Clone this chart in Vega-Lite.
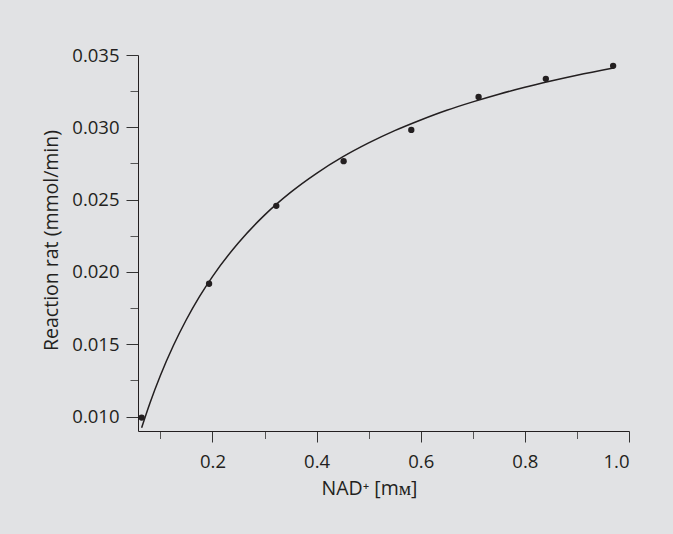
{
  "$schema": "https://vega.github.io/schema/vega-lite/v6.json",
  "width": 491,
  "height": 376,
  "autosize": "none",
  "padding": {"left": 138, "top": 55, "right": 44, "bottom": 103},
  "background": "#e1e2e4",
  "config": {
    "view": {"stroke": null},
    "font": "Open Sans",
    "axis": {
      "domainColor": "#231f20",
      "domainWidth": 1,
      "grid": false,
      "labelFont": "Open Sans",
      "labelFontSize": 18.5,
      "labelColor": "#231f20",
      "titleFont": "Open Sans",
      "titleFontSize": 19.5,
      "titleFontWeight": "normal",
      "titleColor": "#231f20",
      "tickWidth": 1
    }
  },
  "datasets": {
    "points": [
      {"nad": 0.064, "rate": 0.00993},
      {"nad": 0.1935, "rate": 0.01918},
      {"nad": 0.3226, "rate": 0.02457},
      {"nad": 0.4519, "rate": 0.02766},
      {"nad": 0.5819, "rate": 0.02982},
      {"nad": 0.7111, "rate": 0.0321},
      {"nad": 0.8403, "rate": 0.03335},
      {"nad": 0.9695, "rate": 0.03425}
    ],
    "curve": [
      {"nad": 0.064, "rate": 0.00923},
      {"nad": 0.08, "rate": 0.01094},
      {"nad": 0.1, "rate": 0.01284},
      {"nad": 0.125, "rate": 0.01491},
      {"nad": 0.15, "rate": 0.01671},
      {"nad": 0.175, "rate": 0.01829},
      {"nad": 0.2, "rate": 0.01968},
      {"nad": 0.25, "rate": 0.02202},
      {"nad": 0.3, "rate": 0.02393},
      {"nad": 0.35, "rate": 0.0255},
      {"nad": 0.4, "rate": 0.02682},
      {"nad": 0.45, "rate": 0.02795},
      {"nad": 0.5, "rate": 0.02892},
      {"nad": 0.55, "rate": 0.02977},
      {"nad": 0.6, "rate": 0.03051},
      {"nad": 0.65, "rate": 0.03118},
      {"nad": 0.7, "rate": 0.03176},
      {"nad": 0.75, "rate": 0.03229},
      {"nad": 0.8, "rate": 0.03277},
      {"nad": 0.85, "rate": 0.0332},
      {"nad": 0.9, "rate": 0.0336},
      {"nad": 0.97, "rate": 0.0341}
    ]
  },
  "encoding": {
    "x": {
      "field": "nad",
      "type": "quantitative",
      "scale": {"domain": [0.057, 1.0], "nice": false, "zero": false},
      "axis": {
        "title": "NAD⁺ [mᴍ]",
        "values": [0.1, 0.2, 0.3, 0.4, 0.5, 0.6, 0.7, 0.8, 0.9, 1.0],
        "labelExpr": "round(datum.value*10)%2==0 ? format(datum.value, '.1f') : ''",
        "tickSize": {"condition": {"test": "round(datum.value*10)%2==0", "value": 11}, "value": 7.5},
        "tickColor": {"condition": {"test": "round(datum.value*10)%2==0", "value": "#333333"}, "value": "#555555"},
        "labelPadding": 10,
        "titleX": 231,
        "titleY": 57,
        "titleAlign": "center",
        "titleBaseline": "middle",
        "titleAnchor": null
      }
    },
    "y": {
      "field": "rate",
      "type": "quantitative",
      "scale": {"domain": [0.009, 0.035], "nice": false, "zero": false},
      "axis": {
        "title": "Reaction rat (mmol/min)",
        "values": [0.01, 0.0125, 0.015, 0.0175, 0.02, 0.0225, 0.025, 0.0275, 0.03, 0.0325, 0.035],
        "labelExpr": "round(datum.value*400)%2==0 ? format(datum.value, '.3f') : ''",
        "tickSize": {"condition": {"test": "round(datum.value*400)%2==0", "value": 12}, "value": 8},
        "tickColor": {"condition": {"test": "round(datum.value*400)%2==0", "value": "#333333"}, "value": "#555555"},
        "labelPadding": 7,
        "titleX": -87,
        "titleY": 185,
        "titleAngle": -90,
        "titleAlign": "center",
        "titleBaseline": "middle",
        "titleAnchor": null
      }
    }
  },
  "layer": [
    {
      "data": {"name": "curve"},
      "mark": {"type": "line", "color": "#231f20", "strokeWidth": 1.5, "interpolate": "monotone", "clip": false}
    },
    {
      "data": {"name": "points"},
      "mark": {"type": "circle", "color": "#231f20", "opacity": 1, "size": 40, "clip": false}
    }
  ]
}
